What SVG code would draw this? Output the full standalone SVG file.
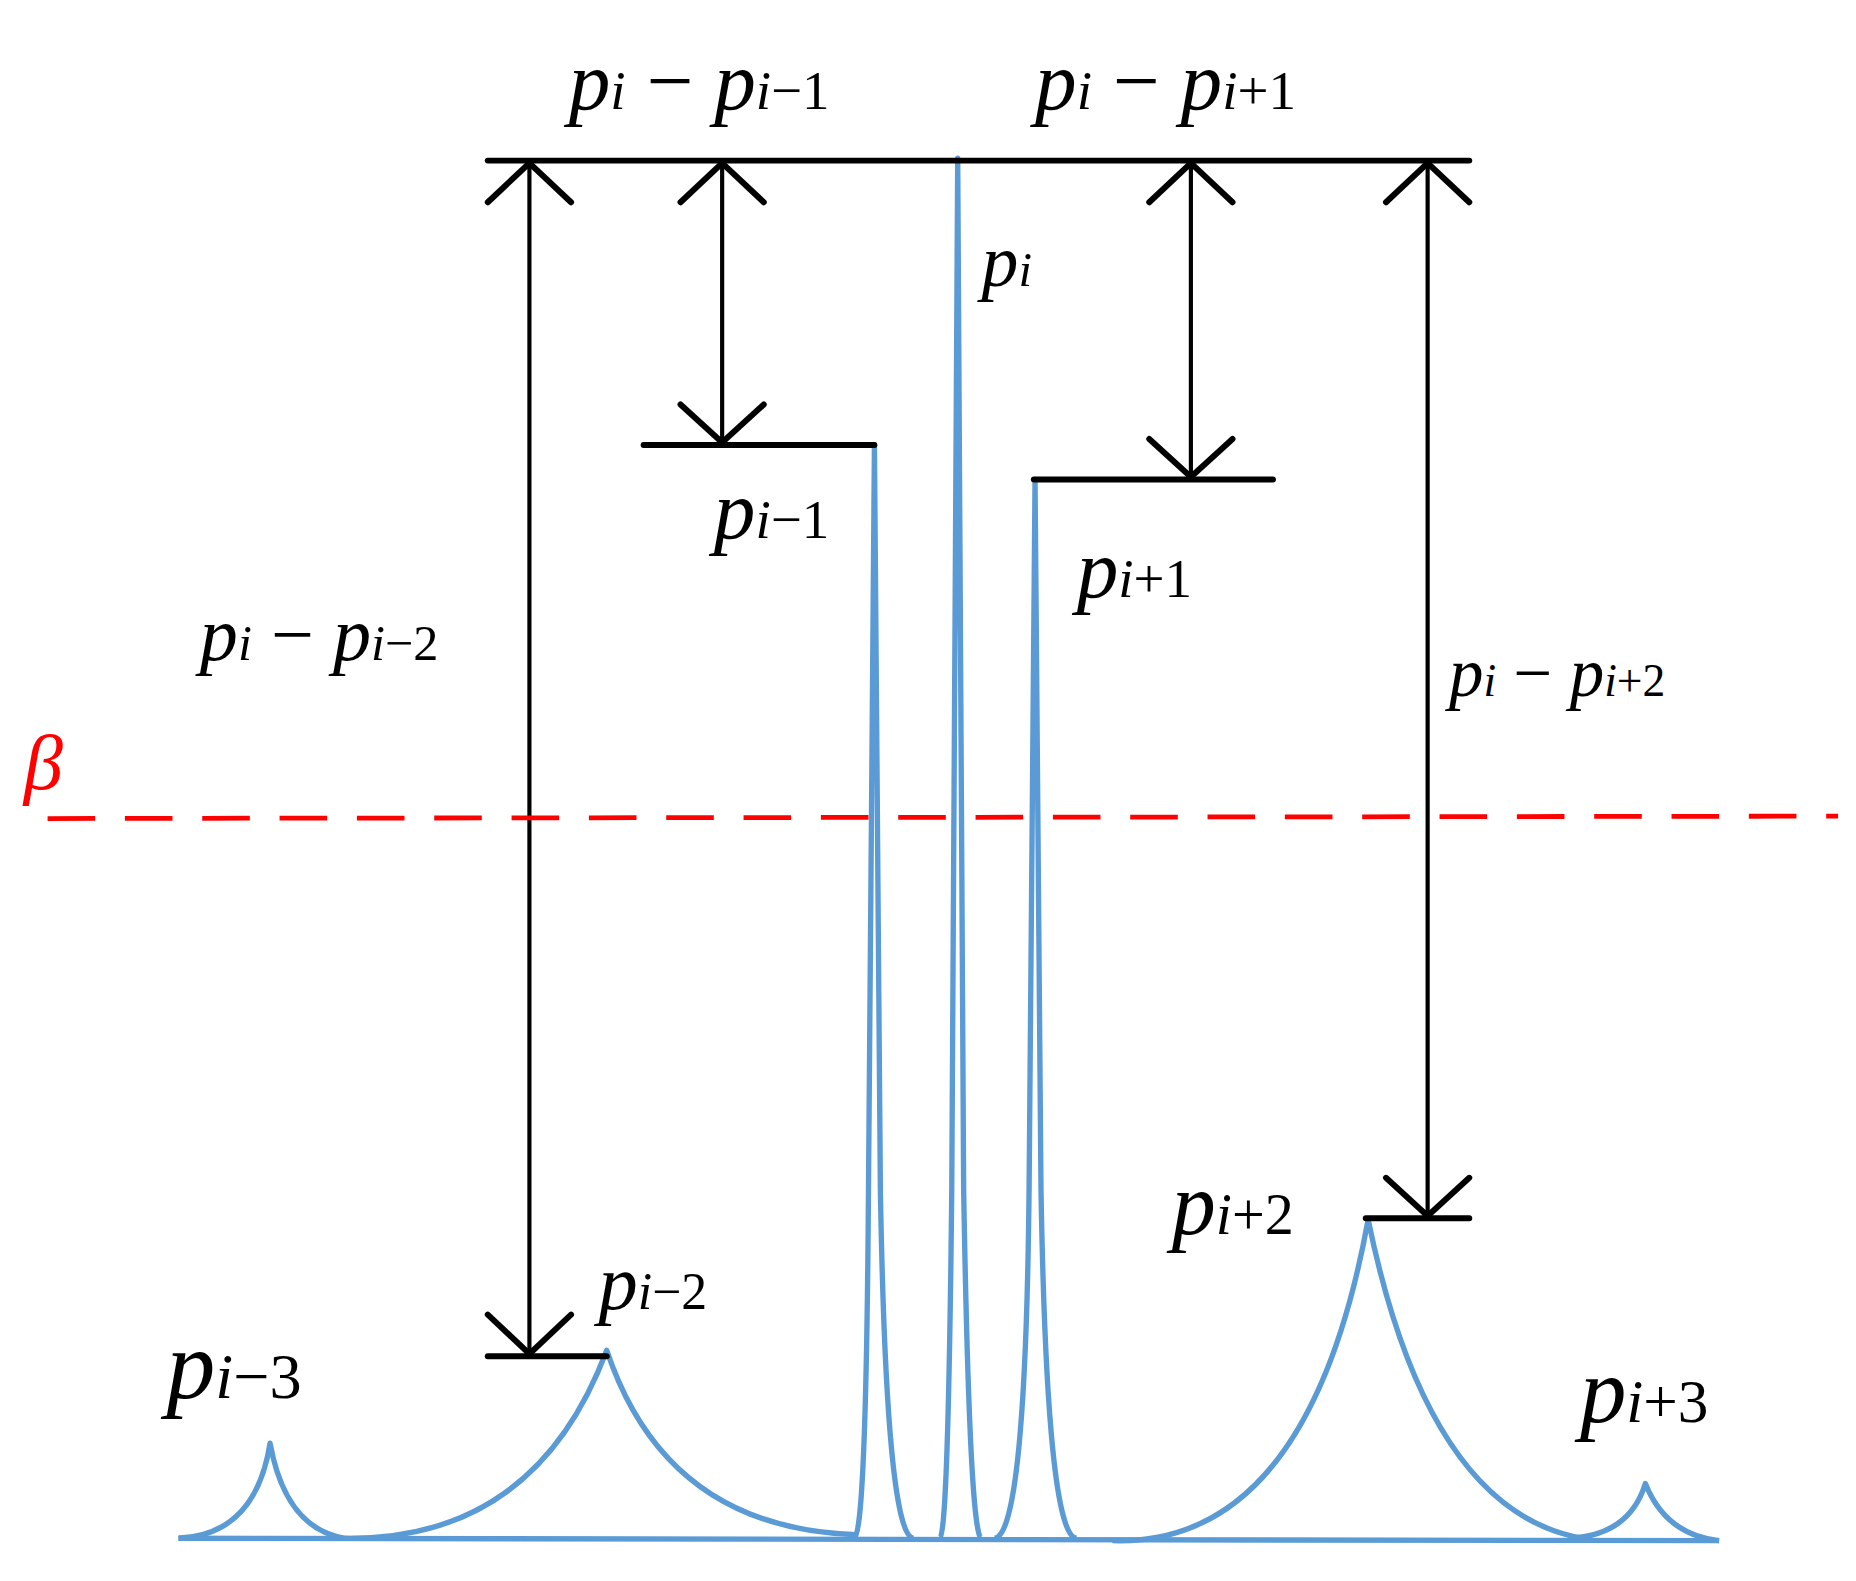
<svg xmlns="http://www.w3.org/2000/svg" width="1856" height="1581" viewBox="0 0 1856 1581">
<style>
.bk{stroke:#000;fill:none;stroke-width:5;stroke-linecap:round}
.sh{stroke:#000;fill:none;stroke-width:3.5}
.bl{stroke:#5B9BD5;fill:none;stroke-width:4.5;stroke-linejoin:round}
text{font-family:"Liberation Serif","Times New Roman",serif;fill:#000}
.it{font-style:italic}
.sub{font-size:0.66em}
</style>
<rect width="1856" height="1581" fill="#fff"/>
<g transform="scale(1.1897)">
<g id="curve">
<path class="bl" d="M150,1293 L1445,1295"/>
<path class="bl" d="M150,1293 Q215,1290 227,1213 Q240,1285 290,1293"/>
<path class="bl" d="M290,1293 Q450,1295 510,1135 Q560,1285 720,1290"/>
<path class="bl" d="M718,1293 Q728,1290 730,1000 L735,374 L740,1000 Q745,1292 768,1293"/>
<path class="bl" d="M790,1293 Q797,1290 800,1000 L805,133 L810,1000 Q815,1292 825,1293"/>
<path class="bl" d="M836,1293 Q862,1290 865,1000 L870,403 L875,1000 Q880,1292 905,1293"/>
<path class="bl" d="M935,1295 Q1100,1300 1150,1025 Q1200,1270 1330,1293"/>
<path class="bl" d="M1320,1293 Q1370,1290 1383,1247 Q1400,1290 1445,1295"/>
</g>
<g id="connectors">
<line class="bk" x1="410" y1="135" x2="1235" y2="135"/>
<line class="bk" x1="410" y1="1140" x2="510" y2="1140"/>
<line class="bk" x1="541" y1="374" x2="735" y2="374"/>
<line class="bk" x1="869" y1="403" x2="1070" y2="403"/>
<line class="bk" x1="1148" y1="1024" x2="1235" y2="1024"/>
<line class="sh" x1="445" y1="135" x2="445" y2="1140"/>
<line class="sh" x1="607" y1="135" x2="607" y2="374"/>
<line class="sh" x1="1001" y1="135" x2="1001" y2="403"/>
<line class="sh" x1="1200" y1="135" x2="1200" y2="1024"/>
<path class="bk" d="M410,170 L445,137 L480,170 M572,170 L607,137 L642,170 M966,170 L1001,137 L1036,170 M1165,170 L1200,137 L1235,170"/>
<path class="bk" d="M410,1105 L445,1138 L480,1105 M572,340 L607,372 L642,340 M966,369 L1001,401 L1036,369 M1165,990 L1200,1022 L1235,990"/>
<line x1="40" y1="688" x2="1545" y2="686" stroke="#FF0000" stroke-width="4" stroke-dasharray="40,25"/>
</g>
<g id="labels" font-size="70">
<text x="20" y="663" class="it" fill="#FF0000" style="fill:#f00" font-size="66">β</text>
<text x="478" y="92"><tspan class="it">p</tspan><tspan class="it sub" dy="0">i</tspan> − <tspan class="it">p</tspan><tspan class="sub"><tspan class="it">i</tspan>−1</tspan></text>
<text x="870" y="92"><tspan class="it">p</tspan><tspan class="it sub">i</tspan> − <tspan class="it">p</tspan><tspan class="sub"><tspan class="it">i</tspan>+1</tspan></text>
<text x="825" y="240" font-size="62"><tspan class="it">p</tspan><tspan class="it sub">i</tspan></text>
<text x="600" y="452"><tspan class="it">p</tspan><tspan class="sub"><tspan class="it">i</tspan>−1</tspan></text>
<text x="905" y="502"><tspan class="it">p</tspan><tspan class="sub"><tspan class="it">i</tspan>+1</tspan></text>
<text x="168" y="555" font-size="64"><tspan class="it">p</tspan><tspan class="it sub">i</tspan> − <tspan class="it">p</tspan><tspan class="sub"><tspan class="it">i</tspan>−2</tspan></text>
<text x="1218" y="585" font-size="58"><tspan class="it">p</tspan><tspan class="it sub">i</tspan> − <tspan class="it">p</tspan><tspan class="sub"><tspan class="it">i</tspan>+2</tspan></text>
<text x="985" y="1037" font-size="74"><tspan class="it">p</tspan><tspan class="sub"><tspan class="it">i</tspan>+2</tspan></text>
<text x="503" y="1100" font-size="66"><tspan class="it">p</tspan><tspan class="sub"><tspan class="it">i</tspan>−2</tspan></text>
<text x="140" y="1175" font-size="82"><tspan class="it">p</tspan><tspan class="sub"><tspan class="it">i</tspan>−3</tspan></text>
<text x="1328" y="1195" font-size="78"><tspan class="it">p</tspan><tspan class="sub"><tspan class="it">i</tspan>+3</tspan></text>
</g>
</g>
</svg>
